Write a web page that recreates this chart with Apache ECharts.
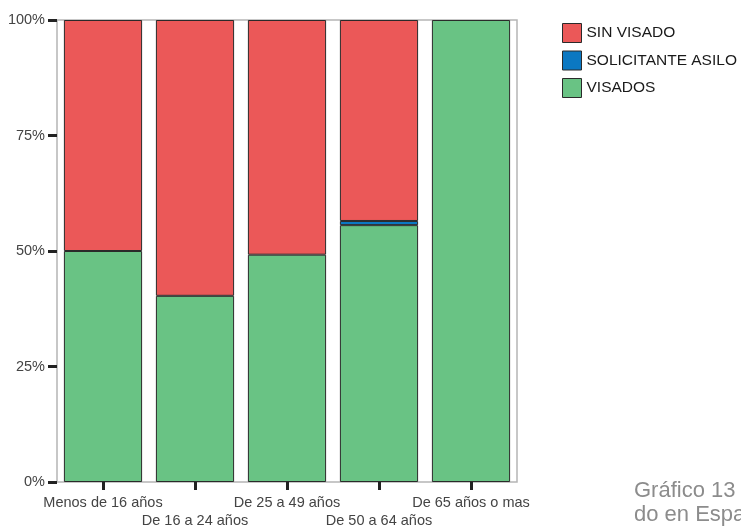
<!DOCTYPE html>
<html>
<head>
<meta charset="utf-8">
<script src="https://cdn.jsdelivr.net/npm/echarts@6/dist/echarts.min.js"></script>
<style>
html,body{margin:0;padding:0;background:#fff;}
#chart{width:741px;height:530px;}
</style>
</head>
<body>
<div id="chart"></div>
<script>
var categories = ['Menos de 16 años', 'De 16 a 24 años', 'De 25 a 49 años', 'De 50 a 64 años', 'De 65 años o mas'];
var visados = [50.0, 40.3, 49.2, 55.6, 100];
var solicitanteAsilo = ['-', '-', '-', 0.9, '-'];
var sinVisado = [50.0, 59.7, 50.8, 43.5, '-'];
var yTicks = [0, 25, 50, 75, 100];

var FONT = "'Liberation Sans', Arial, sans-serif";
var chart = echarts.init(document.getElementById('chart'), null, {renderer: 'canvas'});

function barSeries(name, data, color) {
  return {
    name: name, type: 'bar', stack: 'total', data: data,
    barCategoryGap: '15%',
    itemStyle: {color: color, borderColor: '#2a2a2a', borderWidth: 1},
    emphasis: {disabled: true}
  };
}

chart.setOption({
  animation: false,
  textStyle: {fontFamily: FONT},
  grid: {left: 57, top: 20, width: 460, height: 462, show: true, borderColor: '#b5b5b5', borderWidth: 1.5, backgroundColor: 'transparent'},
  legend: {
    orient: 'vertical', left: 557, top: 18,
    data: ['SIN VISADO', 'SOLICITANTE ASILO', 'VISADOS'],
    icon: 'rect', itemWidth: 19, itemHeight: 19, itemGap: 7.5,
    itemStyle: {borderColor: '#2a2a2a', borderWidth: 1},
    textStyle: {fontSize: 15.5, lineHeight: 19, color: '#1a1a1a', fontFamily: FONT},
    selectedMode: false
  },
  xAxis: {
    type: 'category', data: categories,
    axisLine: {show: false},
    axisTick: {show: true, alignWithLabel: true, length: 8, lineStyle: {color: '#222', width: 3}},
    axisLabel: {
      interval: 0, margin: 12, fontSize: 14.5, color: '#444', lineHeight: 18,
      formatter: function (v, i) { return i % 2 === 1 ? '\n' + v : v; }
    },
    splitLine: {show: false}
  },
  yAxis: {
    type: 'value', min: yTicks[0], max: yTicks[yTicks.length - 1], interval: 25,
    axisLine: {show: false},
    axisTick: {show: true, length: 9, lineStyle: {color: '#222', width: 3}},
    axisLabel: {margin: 12, fontSize: 14.5, color: '#444', formatter: function (v) { return v + '%'; }},
    splitLine: {show: false}
  },
  series: [
    barSeries('VISADOS', visados, '#69c384'),
    barSeries('SOLICITANTE ASILO', solicitanteAsilo, '#0b78c2'),
    barSeries('SIN VISADO', sinVisado, '#eb5858')
  ],
  graphic: [
    {type: 'text', left: 634, top: 480, style: {text: 'Gráfico 13', fontSize: 22, fill: '#8c8c8c', fontFamily: FONT}},
    {type: 'text', left: 634, top: 504, style: {text: 'do en España', fontSize: 22, fill: '#8c8c8c', fontFamily: FONT}}
  ]
});
</script>
</body>
</html>
